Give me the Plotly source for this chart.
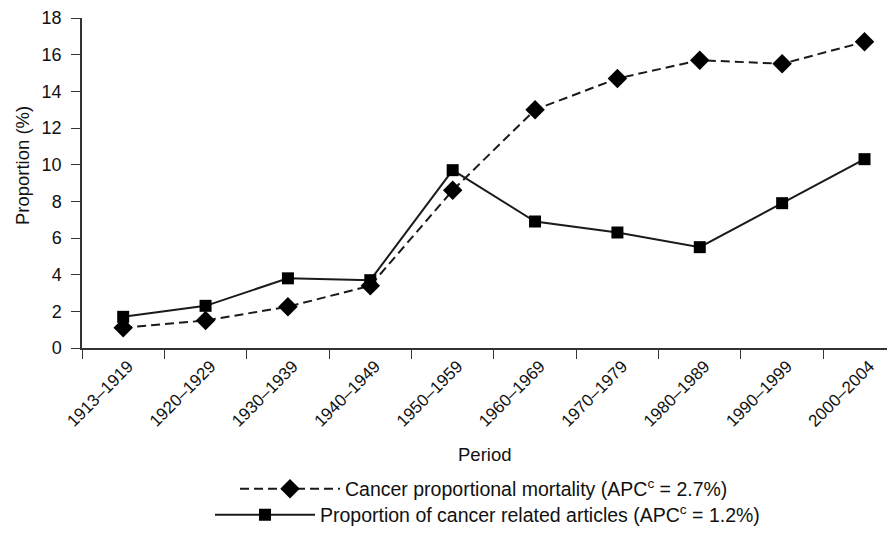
import plotly.graph_objects as go

periods = ["1913–1919", "1920–1929", "1930–1939", "1940–1949", "1950–1959",
           "1960–1969", "1970–1979", "1980–1989", "1990–1999", "2000–2004"]
mortality = [1.1, 1.5, 2.25, 3.4, 8.6, 13.0, 14.7, 15.7, 15.5, 16.7]
articles = [1.7, 2.3, 3.8, 3.7, 9.7, 6.9, 6.3, 5.5, 7.9, 10.3]

name_mort = "Cancer proportional mortality (APC<sup>c</sup> = 2.7%)"
name_art = "Proportion of cancer related articles (APC<sup>c</sup> = 1.2%)"

FONT = "Liberation Sans, Arial, sans-serif"

fig = go.Figure()
fig.add_trace(go.Scatter(
    x=periods, y=mortality, name=name_mort, mode="lines+markers",
    line=dict(color="#1a1a1a", width=2, dash="9px,5px"),
    marker=dict(symbol="diamond", size=15, color="#000000"),
    legend="legend",
))
fig.add_trace(go.Scatter(
    x=periods, y=articles, name=name_art, mode="lines+markers",
    line=dict(color="#1a1a1a", width=2),
    marker=dict(symbol="square", size=12, color="#000000"),
    legend="legend2",
))

# the page body adds an 8px margin; the figure runs to the window's right/bottom edge
W, H = 887, 527
L, R, T, B = 74, 0, 10, 185
PH = H - T - B
PW = W - L - R

def py(win_y):
    return (H - B - (win_y - 8)) / PH

def px(win_x):
    return (win_x - 8 - L) / PW

leg_common = dict(orientation="v", xanchor="left", yanchor="middle",
                  itemwidth=100, font=dict(size=19.5), bgcolor="rgba(0,0,0,0)")

fig.update_layout(
    width=W, height=H,
    margin=dict(l=L, r=R, t=T, b=B),
    paper_bgcolor="white", plot_bgcolor="white",
    font=dict(family=FONT, size=18, color="#111111"),
    showlegend=True,
    legend=dict(x=px(235), y=py(492), **leg_common),
    legend2=dict(x=px(210), y=py(518), **leg_common),
    xaxis=dict(
        type="category", range=[-0.5, 9.37], automargin=False,
        showline=True, linecolor="#333333", linewidth=1.5,
        ticks="outside", tickson="boundaries", ticklen=9, tickcolor="#333333",
        tickangle=-45, ticklabelshift=5, showgrid=False, zeroline=False,
        tickfont=dict(size=17),
    ),
    yaxis=dict(
        range=[0, 18], dtick=2, showline=True, linecolor="#333333", linewidth=1.5,
        automargin=False, ticklabelstandoff=6,
        ticks="outside", ticklen=9, tickcolor="#333333", showgrid=False,
        zeroline=False, tickfont=dict(size=18),
    ),
    annotations=[
        dict(text="Period", xref="paper", yref="paper", x=px(484), y=py(457),
             xanchor="center", yanchor="middle", showarrow=False,
             font=dict(size=18.5)),
        dict(text="Proportion (%)", xref="paper", yref="paper", x=px(22), y=py(167),
             xanchor="center", yanchor="middle", showarrow=False, textangle=-90,
             font=dict(size=18.5)),
    ],
)

fig.write_html("out.html")
